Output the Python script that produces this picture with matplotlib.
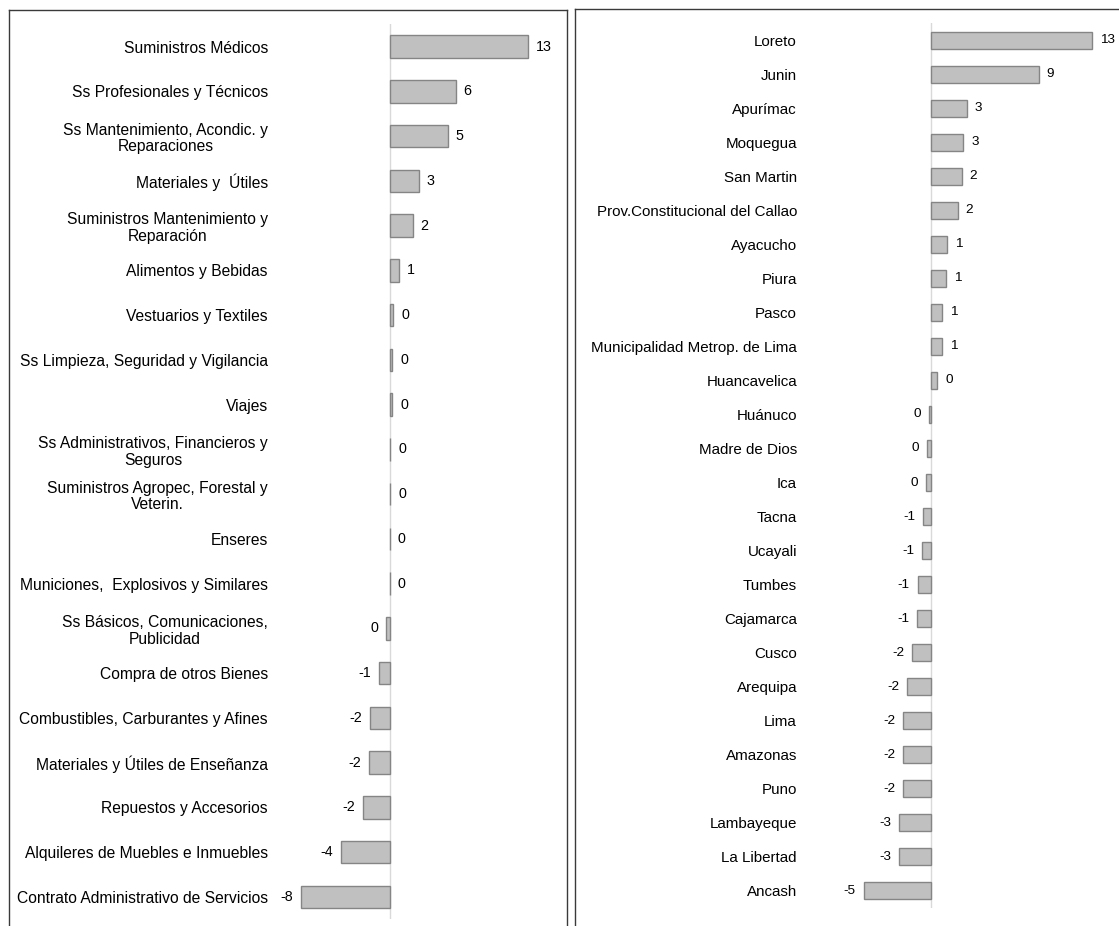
import matplotlib
matplotlib.use("Agg")
import matplotlib.pyplot as plt
from matplotlib.lines import Line2D

plt.rcParams['font.family'] = ['Liberation Sans', 'DejaVu Sans']

left_categories = [
    "Suministros Médicos", "Ss Profesionales y Técnicos",
    "Ss Mantenimiento, Acondic. y\nReparaciones", "Materiales y  Útiles",
    "Suministros Mantenimiento y\nReparación", "Alimentos y Bebidas",
    "Vestuarios y Textiles", "Ss Limpieza, Seguridad y Vigilancia", "Viajes",
    "Ss Administrativos, Financieros y\nSeguros",
    "Suministros Agropec, Forestal y\nVeterin.", "Enseres",
    "Municiones,  Explosivos y Similares",
    "Ss Básicos, Comunicaciones,\nPublicidad", "Compra de otros Bienes",
    "Combustibles, Carburantes y Afines", "Materiales y Útiles de Enseñanza",
    "Repuestos y Accesorios", "Alquileres de Muebles e Inmuebles",
    "Contrato Administrativo de Servicios",
]
left_values = [12.6, 6.0, 5.3, 2.64, 2.1, 0.85, 0.36, 0.27, 0.23, 0.08, 0.06,
               0.04, 0.0, -0.3, -0.95, -1.73, -1.85, -2.4, -4.43, -8.06]

right_categories = [
    "Loreto", "Junin", "Apurímac", "Moquegua", "San Martin",
    "Prov.Constitucional del Callao", "Ayacucho", "Piura", "Pasco",
    "Municipalidad Metrop. de Lima", "Huancavelica", "Huánuco",
    "Madre de Dios", "Ica", "Tacna", "Ucayali", "Tumbes", "Cajamarca",
    "Cusco", "Arequipa", "Lima", "Amazonas", "Puno", "Lambayeque",
    "La Libertad", "Ancash",
]
right_values = [12.9, 8.62, 2.84, 2.57, 2.45, 2.12, 1.26, 1.18, 0.88, 0.85,
                0.46, -0.16, -0.32, -0.45, -0.67, -0.72, -1.09, -1.12, -1.53,
                -1.95, -2.25, -2.25, -2.26, -2.6, -2.6, -5.43]

W, H = 1119, 926
fig = plt.figure(figsize=(W / 100, H / 100), dpi=100)


def px_axes(x0, y0, x1, y1):
    return fig.add_axes([x0 / W, 1 - y1 / H, (x1 - x0) / W, (y1 - y0) / H])


BAR_FC = "#c0c0c0"
BAR_EC = "#858585"
GRID_C = "#d9d9d9"


def draw_panel(ax, cats, vals, zero_px, scale, x0, x1, pad_pt, fs_cat, fs_val):
    n = len(cats)
    ax.set_xlim((x0 - zero_px) / scale, (x1 - zero_px) / scale)
    ax.set_ylim(n - 0.5, -0.5)
    ypos = list(range(n))
    ax.barh(ypos, vals, height=0.5, color=BAR_FC, edgecolor=BAR_EC,
            linewidth=1.0, zorder=3)
    ax.axvline(0, color=GRID_C, linewidth=1.0, zorder=2)
    for s in ax.spines.values():
        s.set_visible(False)
    ax.set_xticks([])
    ax.set_yticks(ypos)
    ax.set_yticklabels(cats, fontsize=fs_cat, color="#000000")
    for t in ax.get_yticklabels():
        t.set_multialignment("center")
        t.set_linespacing(1.15)
    ax.tick_params(axis="y", length=0, pad=pad_pt)
    off = 8 / scale
    for y, v in zip(ypos, vals):
        lab = f"{int(round(v))}"
        if v >= 0:
            ax.text(v + off, y, lab, ha="left", va="center", fontsize=fs_val)
        else:
            ax.text(v - off, y, lab, ha="right", va="center", fontsize=fs_val)


axL = px_axes(280, 24.3, 560, 919.3)
draw_panel(axL, left_categories, left_values, 389.5, 11.0, 280, 560,
           pad_pt=12 * 0.72, fs_cat=11.25, fs_val=10.3)

axR = px_axes(840, 23, 1110, 908)
draw_panel(axR, right_categories, right_values, 931.3, 12.45, 840, 1110,
           pad_pt=43 * 0.72, fs_cat=10.9, fs_val=9.7)


def fline(xs, ys):
    fig.add_artist(Line2D([x / W for x in xs], [1 - y / H for y in ys],
                          color="#3a3a3a", linewidth=1.0))


fline([8.5, 8.5], [10, 926])
fline([8.5, 566.5], [10, 10])
fline([566.5, 566.5], [10, 926])
fline([574.5, 574.5], [9, 926])
fline([574.5, 1119], [9, 9])

fig.savefig("out.png", dpi=100)
